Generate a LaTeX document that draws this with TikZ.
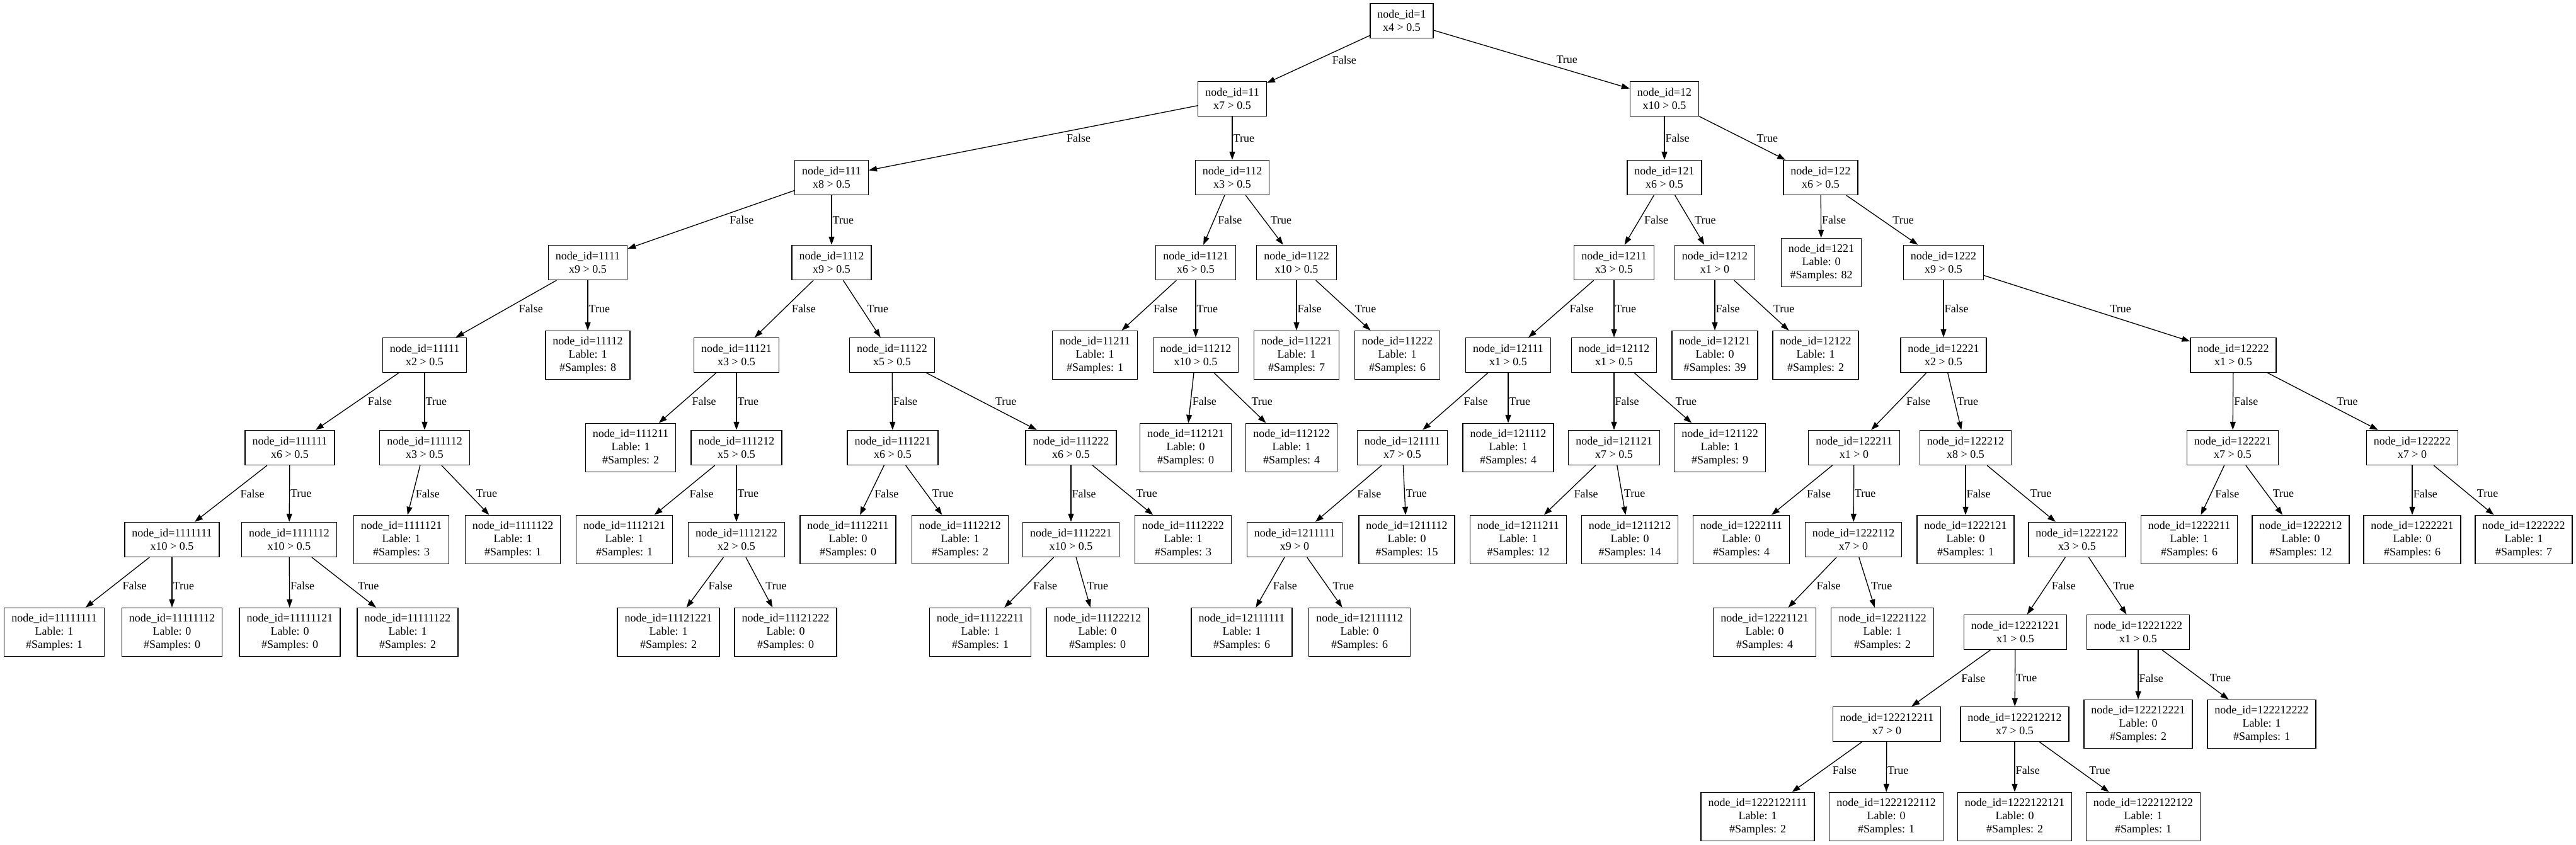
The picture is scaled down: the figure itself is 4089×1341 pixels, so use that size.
\documentclass[tikz,border=0pt]{standalone}
\usepackage{fontspec}
\setmainfont{Liberation Serif}
\usetikzlibrary{arrows.meta,calc}
\newcommand\mkin[4]{\node[inode] (n#1) at (#2,#3) {node\_id=#1\\#4};}
\newcommand\mklf[5]{\node[lnode] (n#1) at (#2,#3) {node\_id=#1\\Lable: #4\\\#Samples: #5};}
\newcommand\lnk[4]{%
  \draw[conn] (#1) -- (#2);
  \coordinate (ca) at (#1.center);
  \coordinate (cb) at (#2.center);
  \coordinate (cm) at ($(ca)!0.5!(cb)$);
  \coordinate (h1) at ($(cm)+(-600,#3)$);
  \coordinate (h2) at ($(cm)+(600,#3)$);
  \coordinate (cx) at (intersection of ca--cb and h1--h2);
  \node[elab] at (cx |- cm) {#4};}
\newcommand\kids[1]{\lnk{n#1}{n#11}{10.5}{False}\lnk{n#1}{n#12}{-10.5}{True}}
\begin{document}
\begin{tikzpicture}[x=1pt,y=1pt,
  every node/.style={font=\fontsize{18}{21}\selectfont},
  inode/.style={draw, line width=1.3pt, align=center, inner xsep=11.5pt, inner ysep=0pt, minimum height=55pt},
  lnode/.style={inode, minimum height=77pt},
  conn/.style={line width=1.3pt, -{Triangle[length=13pt,width=9pt]}},
  elab/.style={anchor=west, inner sep=0pt, xshift=1.5pt}]
\useasboundingbox (0,0) rectangle (4089,-1341);
% rank 0
\mkin{1}{2225}{-33}{x4 > 0.5}
% rank 1
\mkin{11}{1956}{-157}{x7 > 0.5}
\mkin{12}{2642}{-157}{x10 > 0.5}
% rank 2
\mkin{111}{1320}{-282}{x8 > 0.5}
\mkin{112}{1956}{-282}{x3 > 0.5}
\mkin{121}{2642}{-282}{x6 > 0.5}
\mkin{122}{2890}{-282}{x6 > 0.5}
% rank 3
\mkin{1111}{933}{-417}{x9 > 0.5}
\mkin{1112}{1320}{-417}{x9 > 0.5}
\mkin{1121}{1898}{-417}{x6 > 0.5}
\mkin{1122}{2058}{-417}{x10 > 0.5}
\mkin{1211}{2562}{-417}{x3 > 0.5}
\mkin{1212}{2722}{-417}{x1 > 0}
\mklf{1221}{2891}{-417}{0}{82}
\mkin{1222}{3085}{-417}{x9 > 0.5}
% rank 4
\mkin{11111}{674}{-564}{x2 > 0.5}
\mklf{11112}{933}{-564}{1}{8}
\mkin{11121}{1169}{-564}{x3 > 0.5}
\mkin{11122}{1416}{-564}{x5 > 0.5}
\mklf{11211}{1738}{-564}{1}{1}
\mkin{11212}{1898}{-564}{x10 > 0.5}
\mklf{11221}{2058}{-564}{1}{7}
\mklf{11222}{2218}{-564}{1}{6}
\mkin{12111}{2394}{-564}{x1 > 0.5}
\mkin{12112}{2562}{-564}{x1 > 0.5}
\mklf{12121}{2722}{-564}{0}{39}
\mklf{12122}{2882}{-564}{1}{2}
\mkin{12221}{3085}{-564}{x2 > 0.5}
\mkin{12222}{3545}{-564}{x1 > 0.5}
% rank 5
\mkin{111111}{460}{-711}{x6 > 0.5}
\mkin{111112}{674}{-711}{x3 > 0.5}
\mklf{111211}{1001}{-711}{1}{2}
\mkin{111212}{1169}{-711}{x5 > 0.5}
\mkin{111221}{1417}{-711}{x6 > 0.5}
\mkin{111222}{1700}{-711}{x6 > 0.5}
\mklf{112121}{1882}{-711}{0}{0}
\mklf{112122}{2050}{-711}{1}{4}
\mkin{121111}{2226}{-711}{x7 > 0.5}
\mklf{121112}{2394}{-711}{1}{4}
\mkin{121121}{2562}{-711}{x7 > 0.5}
\mklf{121122}{2730}{-711}{1}{9}
\mkin{122211}{2943}{-711}{x1 > 0}
\mkin{122212}{3120}{-711}{x8 > 0.5}
\mkin{122221}{3544}{-711}{x7 > 0.5}
\mkin{122222}{3829}{-711}{x7 > 0}
% rank 6
\mkin{1111111}{273}{-857}{x10 > 0.5}
\mkin{1111112}{459}{-857}{x10 > 0.5}
\mklf{1111121}{637}{-857}{1}{3}
\mklf{1111122}{814}{-857}{1}{1}
\mklf{1112121}{991}{-857}{1}{1}
\mkin{1112122}{1169}{-857}{x2 > 0.5}
\mklf{1112211}{1346}{-857}{0}{0}
\mklf{1112212}{1524}{-857}{1}{2}
\mkin{1112221}{1700}{-857}{x10 > 0.5}
\mklf{1112222}{1878}{-857}{1}{3}
\mkin{1211111}{2055}{-857}{x9 > 0}
\mklf{1211112}{2233}{-857}{0}{15}
\mklf{1211211}{2410}{-857}{1}{12}
\mklf{1211212}{2587}{-857}{0}{14}
\mklf{1222111}{2764}{-857}{0}{4}
\mkin{1222112}{2942}{-857}{x7 > 0}
\mklf{1222121}{3120}{-857}{0}{1}
\mkin{1222122}{3297}{-857}{x3 > 0.5}
\mklf{1222211}{3475}{-857}{1}{6}
\mklf{1222212}{3652}{-857}{0}{12}
\mklf{1222221}{3829}{-857}{0}{6}
\mklf{1222222}{4006}{-857}{1}{7}
% rank 7
\mklf{11111111}{86}{-1004}{1}{1}
\mklf{11111112}{273}{-1004}{0}{0}
\mklf{11111121}{460}{-1004}{0}{0}
\mklf{11111122}{647}{-1004}{1}{2}
\mklf{11121221}{1061}{-1004}{1}{2}
\mklf{11121222}{1247}{-1004}{0}{0}
\mklf{11122211}{1556}{-1004}{1}{1}
\mklf{11122212}{1742}{-1004}{0}{0}
\mklf{12111111}{1971}{-1004}{1}{6}
\mklf{12111112}{2158}{-1004}{0}{6}
\mklf{12221121}{2801}{-1004}{0}{4}
\mklf{12221122}{2988}{-1004}{1}{2}
\mkin{12221221}{3199}{-1004}{x1 > 0.5}
\mkin{12221222}{3394}{-1004}{x1 > 0.5}
% rank 8
\mkin{122212211}{2995}{-1150}{x7 > 0}
\mkin{122212212}{3198}{-1150}{x7 > 0.5}
\mklf{122212221}{3394}{-1150}{0}{2}
\mklf{122212222}{3590}{-1150}{1}{1}
% rank 9
\mklf{1222122111}{2790}{-1297}{1}{2}
\mklf{1222122112}{2994}{-1297}{0}{1}
\mklf{1222122121}{3198}{-1297}{0}{2}
\mklf{1222122122}{3402}{-1297}{1}{1}
% connectors
\kids{1}
\kids{11}\kids{12}
\kids{111}\kids{112}\kids{121}\kids{122}
\kids{1111}\kids{1112}\kids{1121}\kids{1122}\kids{1211}\kids{1212}\kids{1222}
\kids{11111}\kids{11121}\kids{11122}\kids{11212}\kids{12111}\kids{12112}\kids{12221}\kids{12222}
\kids{111111}\kids{111112}\kids{111212}\kids{111221}\kids{111222}\kids{121111}\kids{121121}
\kids{122211}\kids{122212}\kids{122221}\kids{122222}
\kids{1111111}\kids{1111112}\kids{1112122}\kids{1112221}\kids{1211111}\kids{1222112}\kids{1222122}
\kids{12221221}\kids{12221222}
\kids{122212211}\kids{122212212}
\end{tikzpicture}
\end{document}
